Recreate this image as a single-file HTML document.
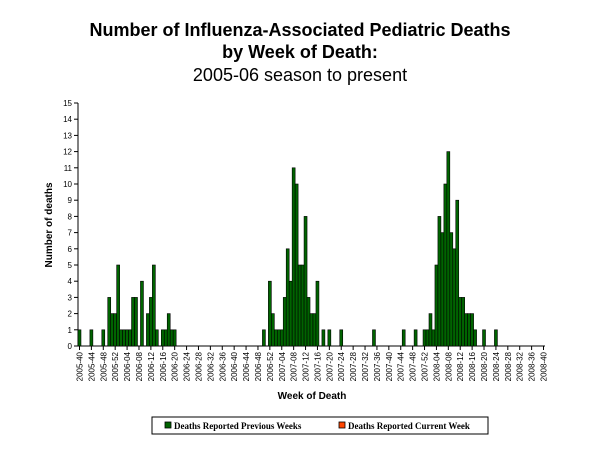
<!DOCTYPE html>
<html><head><meta charset="utf-8"><style>
body{margin:0;background:#fff;width:600px;height:450px;overflow:hidden}
svg{display:block}
</style></head><body>
<svg id="chart" width="600" height="450" xmlns="http://www.w3.org/2000/svg" font-family="Liberation Sans, sans-serif">
<text x="300" y="36" text-anchor="middle" font-size="18" font-weight="bold">Number of Influenza-Associated Pediatric Deaths</text>
<text x="300" y="58" text-anchor="middle" font-size="18" font-weight="bold">by Week of Death:</text>
<text x="300" y="81" text-anchor="middle" font-size="18">2005-06 season to present</text>
<text transform="translate(52,225) rotate(-90)" text-anchor="middle" font-size="10" font-weight="bold">Number of deaths</text>
<text x="312" y="399" text-anchor="middle" font-size="10" font-weight="bold">Week of Death</text>
<g id="plot"></g>
<g>
<rect x="152" y="417" width="336" height="17" fill="#fff" stroke="#000" stroke-width="1"/>
<rect x="165" y="422" width="6" height="6" fill="#006400" stroke="#000" stroke-width="0.8"/>
<text x="174" y="429" font-family="Liberation Serif, serif" font-size="9" font-weight="bold">Deaths Reported Previous Weeks</text>
<rect x="339" y="422" width="6" height="6" fill="#ff4500" stroke="#000" stroke-width="0.8"/>
<text x="348" y="429" font-family="Liberation Serif, serif" font-size="9" font-weight="bold">Deaths Reported Current Week</text>
</g>
</svg>
<script>
const weekIndex = [0,4,8,10,11,12,13,14,15,16,17,18,19,21,23,24,25,26,28,29,30,31,32,
62,64,65,66,67,68,69,70,71,72,73,74,75,76,77,78,79,80,82,84,88,99,
109,113,116,117,118,119,120,121,122,123,124,125,126,127,128,129,130,131,132,133,136,140];
const deaths = [1,1,1,3,2,2,5,1,1,1,1,3,3,4,2,3,5,1,1,1,2,1,1,
1,4,2,1,1,1,3,6,4,11,10,5,5,8,3,2,2,4,1,1,1,1,
1,1,1,1,2,1,5,8,7,10,12,7,6,9,3,3,2,2,2,1,1,1];
const yTicks = [0,1,2,3,4,5,6,7,8,9,10,11,12,13,14,15];
const NS='http://www.w3.org/2000/svg';
const g=document.getElementById('plot');
const X0=78,X1=545,Y0=346,Y1=103,NW=157,YMAX=15;
const sw=(X1-X0)/NW;
const xs=i=>X0+i*sw;
const ys=v=>Y0-(v/YMAX)*(Y0-Y1);
function mk(t,a){const e=document.createElementNS(NS,t);for(const k in a)e.setAttribute(k,a[k]);g.appendChild(e);return e;}
// axes
let ax=mk('line',{x1:X0,y1:Y1,x2:X0,y2:Y0,stroke:'#000','stroke-width':1});


ax=mk('line',{x1:X0,y1:Y0,x2:X1,y2:Y0,stroke:'#000','stroke-width':1});


yTicks.forEach(v=>{
 mk('line',{x1:X0-4,y1:ys(v),x2:X0,y2:ys(v),stroke:'#000'});
 const t=mk('text',{x:X0-6,y:ys(v)+3,'text-anchor':'end','font-size':8});
 t.textContent=v;
 
 
});
// x ticks
for(let i=0;i<NW;i+=4){
 const yr=i<13?2005:i<65?2006:i<117?2007:2008;
 const wk=i<13?40+i:i<65?i-12:i<117?i-64:i-116;
 const lbl=yr+'-'+String(wk).padStart(2,'0');
 const cx=xs(i)+sw/2;
 mk('line',{x1:cx,y1:Y0,x2:cx,y2:Y0+4,stroke:'#000'});
 const t=mk('text',{transform:`translate(${cx+3},${Y0+6}) rotate(-90)`,'text-anchor':'end','font-size':8,fill:'#000'});
 t.textContent=lbl;
 
 
}
weekIndex.forEach((w,k)=>{
 const r=mk('rect',{x:xs(w),y:ys(deaths[k]),width:sw,height:Y0-ys(deaths[k]),fill:'#006400',stroke:'#000','stroke-width':0.6});
 
 
});
</script>
</body></html>
